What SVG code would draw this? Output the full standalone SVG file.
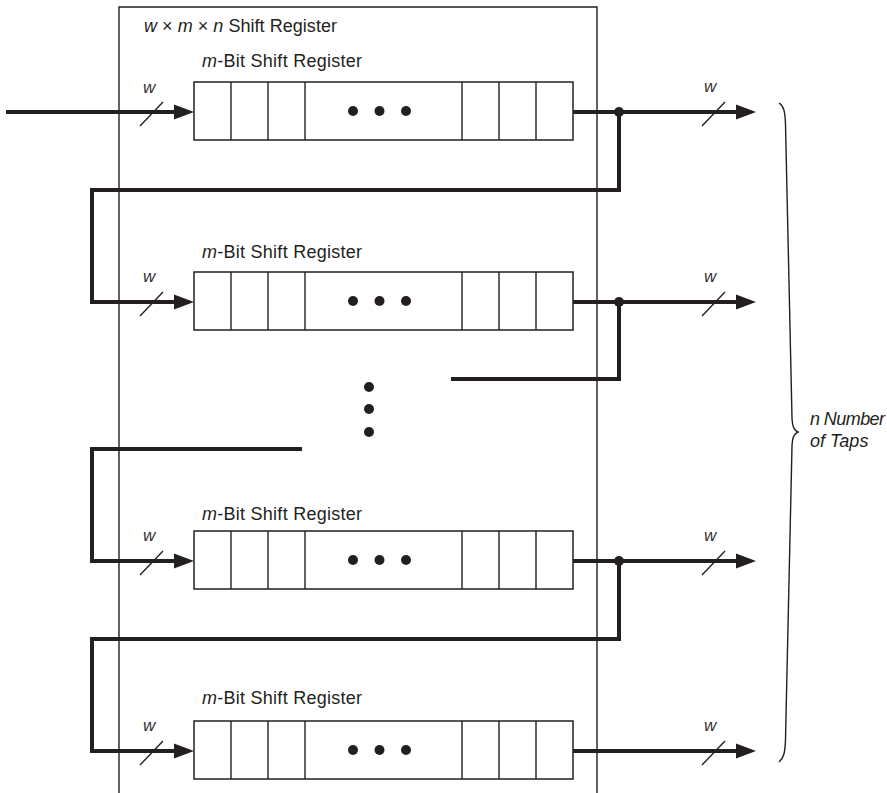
<svg xmlns="http://www.w3.org/2000/svg" width="887" height="793" viewBox="0 0 887 793">
<defs>
<style>
.thin{fill:none;stroke:#231f20;stroke-width:1.4}
.box{fill:#fff;stroke:#231f20;stroke-width:1.5}
.wire{fill:none;stroke:#231f20;stroke-width:4;stroke-linejoin:miter;stroke-linecap:butt}
.slash{stroke:#231f20;stroke-width:1.4}
.dot{fill:#231f20}
.arr{fill:#231f20}
text{font-family:"Liberation Sans",Arial,Helvetica,sans-serif;fill:#231f20;font-size:18px}
.it{font-style:italic}
.w{font-style:italic;font-size:17px;fill:#333}
</style>
<g id="reg">
<rect class="box" x="194" y="0" width="379" height="58"/>
<line class="thin" x1="231" y1="0" x2="231" y2="58"/>
<line class="thin" x1="268" y1="0" x2="268" y2="58"/>
<line class="thin" x1="305" y1="0" x2="305" y2="58"/>
<line class="thin" x1="462" y1="0" x2="462" y2="58"/>
<line class="thin" x1="499" y1="0" x2="499" y2="58"/>
<line class="thin" x1="536" y1="0" x2="536" y2="58"/>
<circle class="dot" cx="353" cy="29" r="5"/>
<circle class="dot" cx="379.5" cy="29" r="5"/>
<circle class="dot" cx="406" cy="29" r="5"/>
</g>
</defs>

<g id="outer">
<path class="thin" d="M119,793 V7 H597 V793"/>
<text x="144" y="32" textLength="193"><tspan class="it">w</tspan> × <tspan class="it">m</tspan> × <tspan class="it">n</tspan> Shift Register</text>
</g>

<g id="connectors">
<path class="wire" d="M6,112 H176"/>
<path class="wire" d="M573,112 H738"/>
<path class="wire" d="M619,112 V190 H92 V302 H176"/>
<path class="wire" d="M573,302 H738"/>
<path class="wire" d="M619,302 V379 H451"/>
<path class="wire" d="M302,449 H92 V561 H176"/>
<path class="wire" d="M573,561 H738"/>
<path class="wire" d="M619,561 V639 H92 V751 H176"/>
<path class="wire" d="M573,751 H738"/>
<circle class="dot" cx="619" cy="112" r="5"/>
<circle class="dot" cx="619" cy="302" r="5"/>
<circle class="dot" cx="619" cy="561" r="5"/>
<polygon class="arr" points="194,112 174,104.5 174,119.5"/>
<polygon class="arr" points="194,302 174,294.5 174,309.5"/>
<polygon class="arr" points="194,561 174,553.5 174,568.5"/>
<polygon class="arr" points="194,751 174,743.5 174,758.5"/>
<polygon class="arr" points="756,112 736,104.5 736,119.5"/>
<polygon class="arr" points="756,302 736,294.5 736,309.5"/>
<polygon class="arr" points="756,561 736,553.5 736,568.5"/>
<polygon class="arr" points="756,751 736,743.5 736,758.5"/>
<line class="slash" x1="140" y1="126" x2="163" y2="102"/>
<line class="slash" x1="140" y1="316" x2="163" y2="292"/>
<line class="slash" x1="140" y1="575" x2="163" y2="551"/>
<line class="slash" x1="140" y1="765" x2="163" y2="741"/>
<line class="slash" x1="702" y1="126" x2="725" y2="102"/>
<line class="slash" x1="702" y1="316" x2="725" y2="292"/>
<line class="slash" x1="702" y1="575" x2="725" y2="551"/>
<line class="slash" x1="702" y1="765" x2="725" y2="741"/>
<text class="w" x="143" y="93">w</text>
<text class="w" x="143" y="282">w</text>
<text class="w" x="143" y="541">w</text>
<text class="w" x="143" y="731">w</text>
<text class="w" x="704" y="92">w</text>
<text class="w" x="704" y="282">w</text>
<text class="w" x="704" y="541">w</text>
<text class="w" x="704" y="731">w</text>
</g>

<g id="reg1">
<use href="#reg" y="82"/>
<text x="202" y="67" textLength="160"><tspan class="it">m</tspan>-Bit Shift Register</text>
</g>
<g id="reg2">
<use href="#reg" y="272"/>
<text x="202" y="258" textLength="160"><tspan class="it">m</tspan>-Bit Shift Register</text>
</g>
<g id="reg3">
<use href="#reg" y="531"/>
<text x="202" y="520" textLength="160"><tspan class="it">m</tspan>-Bit Shift Register</text>
</g>
<g id="reg4">
<use href="#reg" y="721"/>
<text x="202" y="704" textLength="160"><tspan class="it">m</tspan>-Bit Shift Register</text>
</g>

<g id="vdots">
<circle class="dot" cx="369" cy="387" r="5"/>
<circle class="dot" cx="369" cy="409" r="5"/>
<circle class="dot" cx="369" cy="432" r="5"/>
</g>

<g id="brace">
<path class="thin" d="M779,103 C784,106 785,112 785.5,124 L792,418 C792.5,427 794,430 798,432 C794,434 792.5,437 792,446 L785.5,740 C785,752 784,758 779,762"/>
<text class="it" x="810" y="425" font-size="16.5" textLength="75">n Number</text>
<text class="it" x="810" y="447" font-size="16.5">of Taps</text>
</g>
</svg>
